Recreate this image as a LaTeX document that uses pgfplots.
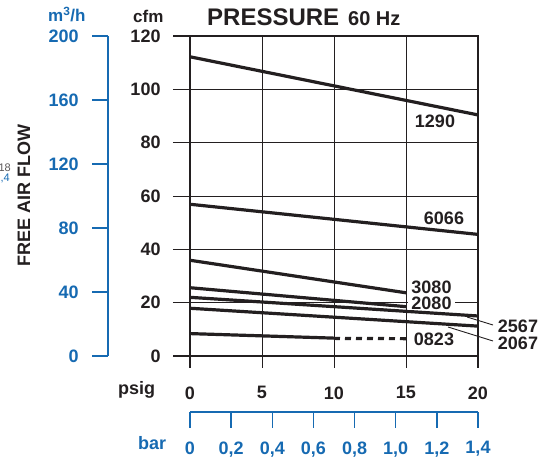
\documentclass[border=0pt]{standalone}
\usepackage{pgfplots}
\pgfplotsset{compat=1.18}
\usepackage{fontspec}
\setmainfont{Liberation Sans}
\definecolor{myblue}{RGB}{22,106,178}
\definecolor{ink}{RGB}{35,31,32}
\newcommand{\fs}[1]{\fontsize{#1}{#1}\selectfont\bfseries}

\begin{document}
\begin{tikzpicture}[x=1pt,y=1pt]
\useasboundingbox (0,0) rectangle (555,457);
% main axis
\begin{axis}[at={(190pt,101pt)}, anchor=south west, scale only axis,
  width=288pt, height=320pt,
  xmin=0, xmax=20, ymin=0, ymax=120,
  xtick={0,5,10,15,20}, ytick={0,20,40,60,80,100,120},
  tick pos=left, tick align=outside, grid=major,
  major grid style={ink, line width=0.9pt},
  axis line style={ink, line width=2pt},
  xtick style={ink, line width=0.9pt, /pgfplots/major tick length=12pt},
  ytick style={ink, line width=0.9pt, /pgfplots/major tick length=17pt},
  tick label style={font=\fs{18}, text=ink, inner sep=0pt},
  xticklabel style={yshift=-26pt},
  yticklabel style={xshift=-25pt},
  /pgf/number format/assume math mode=true,
  ]
\addplot[ink, line width=3.2pt] coordinates {(0,112.2) (20,90.4)};
\addplot[ink, line width=3.2pt] coordinates {(0,56.9) (20,45.6)};
\addplot[ink, line width=3.2pt] coordinates {(0,35.9) (15,23.7)};
\addplot[ink, line width=3.2pt] coordinates {(0,25.6) (15,18.5)};
\addplot[ink, line width=3.2pt] coordinates {(0,22.0) (20,15.0)};
\addplot[ink, line width=3.2pt] coordinates {(0,17.9) (20,11.2)};
\addplot[ink, line width=3.2pt] coordinates {(0,8.4) (10,6.7)};
\addplot[ink, line width=3.2pt, dash pattern=on 6pt off 5pt] coordinates {(10,6.6) (15,6.5)};
\end{axis}
% m3/h axis
\begin{axis}[at={(108pt,101pt)}, anchor=south west, scale only axis,
  width=20pt, height=320pt,
  xmin=0, xmax=1, ymin=0, ymax=200,
  axis x line=none, axis y line=left,
  axis line style={myblue, line width=1.3pt, -},
  ytick={0,40,80,120,160,200}, tick align=outside,
  ytick style={myblue, line width=1.3pt, /pgfplots/major tick length=16pt},
  yticklabel style={font=\fs{18}, text=myblue, inner sep=0pt, xshift=-25pt},
  /pgf/number format/assume math mode=true,
  ]
\end{axis}
% bar axis
\begin{axis}[at={(190pt,45pt)}, anchor=south west, scale only axis,
  width=288pt, height=10pt,
  xmin=0, xmax=1.4, ymin=0, ymax=1,
  axis y line=none, axis x line=bottom,
  axis line style={myblue, line width=1.3pt, -},
  xtick={0,0.2,0.4,0.6,0.8,1.0,1.2,1.4},
  xticklabels={0,{0,2},{0,4},{0,6},{0,8},{1,0},{1,2},{1,4}},
  tick align=outside,
  xtick style={myblue, line width=1.3pt, /pgfplots/major tick length=16pt},
  xticklabel style={font=\fs{18}, text=myblue, inner sep=0pt, yshift=-25pt},
  ]
\end{axis}
% thick frame ticks
\draw[ink, line width=2.6pt] (173,101) -- (191,101);
\draw[ink, line width=2.6pt] (173,421) -- (191,421);
\draw[ink, line width=2.6pt] (190,89) -- (190,102);
\draw[ink, line width=2.6pt] (478,89) -- (478,102);
% titles
\node[anchor=base west, inner sep=0pt, text=ink, font=\fs{24}] at (207,431) {PRESSURE};
\node[anchor=base west, inner sep=0pt, text=ink, font=\fs{20}] at (348,431) {60 Hz};
\node[anchor=base west, inner sep=0pt, text=ink, font=\fs{17}] at (133,434) {cfm};
\node[anchor=base west, inner sep=0pt, text=myblue, font=\fs{17}] at (48,435) {m\textsuperscript{3}/h};
\node[anchor=base west, inner sep=0pt, text=ink, font=\fs{18}] at (118,62) {psig};
\node[anchor=base west, inner sep=0pt, text=myblue, font=\fs{18}] at (138,7) {bar};
\node[rotate=90, inner sep=0pt, text=ink, font=\fs{18}] at (24,261) {FREE AIR FLOW};
\node[anchor=base east, inner sep=0pt, text=ink!75, font=\fontsize{11}{11}\selectfont] at (11,285) {18};
\node[anchor=base east, inner sep=0pt, text=myblue, font=\fontsize{11}{11}\selectfont] at (10,275) {,4};
% line labels
\node[inner sep=0pt, text=ink, font=\fs{18}] at (435,336) {1290};
\node[inner sep=0pt, text=ink, font=\fs{18}] at (444,239) {6066};
\node[inner sep=0pt, text=ink, font=\fs{18}] at (431.5,170) {3080};
\node[fill=white, inner ysep=0pt, inner xsep=3pt, text=ink, font=\fs{18}] at (431.5,153.8) {2080};
\node[inner sep=0pt, text=ink, font=\fs{18}] at (434,117.5) {0823};
\node[inner sep=0pt, text=ink, font=\fs{18}] at (518,130.5) {2567};
\node[inner sep=0pt, text=ink, font=\fs{18}] at (518,114) {2067};
\draw[ink, line width=0.9pt] (467,140) -- (493,132);
\draw[ink, line width=0.9pt] (448,130) -- (493,116);
\end{tikzpicture}
\end{document}
